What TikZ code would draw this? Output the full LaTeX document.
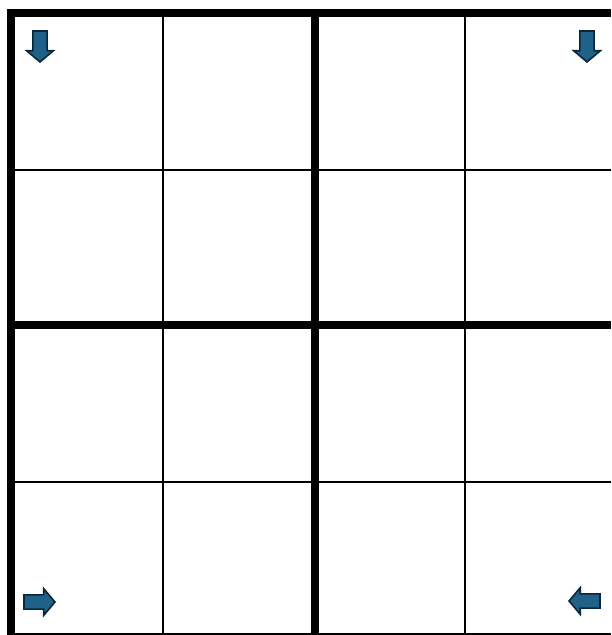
\documentclass[tikz,border=0pt]{standalone}
\usepackage{xcolor}
\usepackage{tikz}
\usetikzlibrary{shapes.arrows}
\definecolor{arrfill}{RGB}{31,97,135}
\definecolor{arrline}{RGB}{10,38,58}

\begin{document}
\begin{tikzpicture}[x=1pt,y=-1pt,
  cellline/.style={line width=2pt},
  boxline/.style={line width=8pt,line join=miter},
  turnarrow/.style={single arrow,draw=arrline,fill=arrfill,line width=1.6pt,
    minimum height=31pt,inner xsep=0pt,inner ysep=6.3pt,
    single arrow head extend=6.3pt,single arrow tip angle=100}]
  \useasboundingbox (0,0) rectangle (611,635);
  \clip (0,0) rectangle (611,635);
  % thin cell lines
  \foreach \x in {163,465}{\draw[cellline] (\x,13)--(\x,635);}
  \foreach \y in {169.5,482,634}{\draw[cellline] (11,\y)--(611,\y);}
  % thick box lines
  \draw[boxline] (314.5,13)--(314.5,635);
  \draw[boxline] (11,324.5)--(611,324.5);
  \draw[boxline] (11,640)--(11,13)--(611,13);
  % corner arrows
  \node[turnarrow,rotate=-90,anchor=tip] (topleft) at (40,63) {};
  \node[turnarrow,rotate=-90,anchor=tip] (topright) at (587,63) {};
  \node[turnarrow,anchor=tip] (bottomleft) at (56,602) {};
  \node[turnarrow,rotate=180,anchor=tip] (bottomright) at (568,601) {};
\end{tikzpicture}
\end{document}
